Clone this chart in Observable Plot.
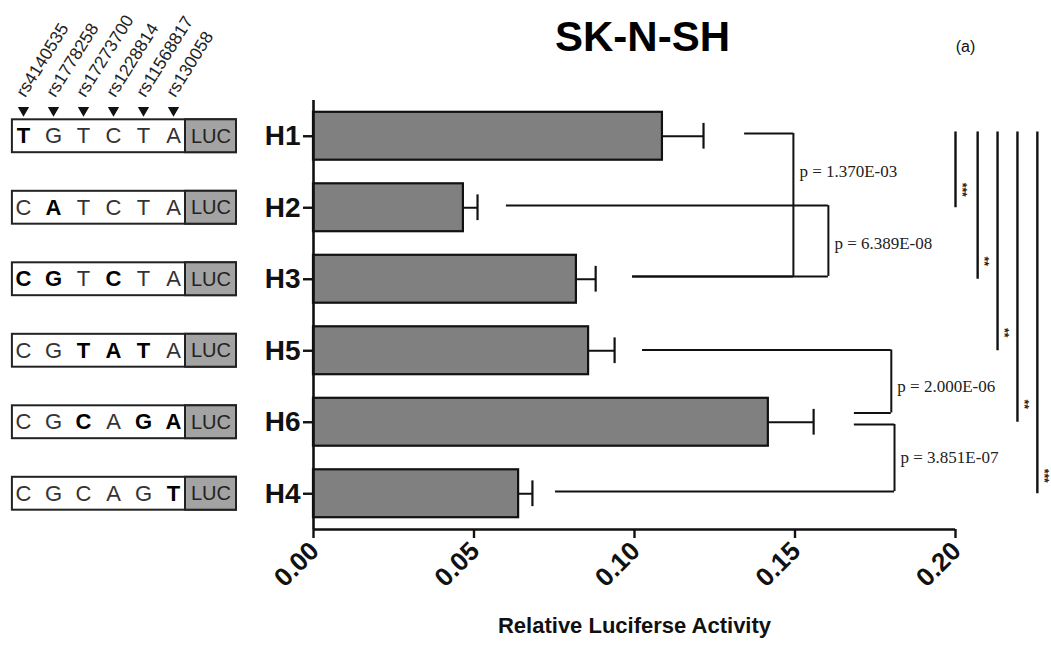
<!DOCTYPE html>
<html><head><meta charset="utf-8">
<script src="https://cdn.jsdelivr.net/npm/d3@7"></script>
<script src="https://cdn.jsdelivr.net/npm/@observablehq/plot@0.6"></script>
<style>
body{margin:0;background:#fff;}
#wrap{position:relative;width:1051px;height:648px;}
#wrap svg{position:absolute;top:0;left:0;background:transparent;}
</style></head><body><div id="wrap"></div>
<script>
// ---- data ----
const haplotypes = ["H1", "H2", "H3", "H5", "H6", "H4"];
const activity = [0.1087, 0.0467, 0.0819, 0.0857, 0.1417, 0.0639];
const errors = [0.0128, 0.0044, 0.0060, 0.0081, 0.0141, 0.0043];
const snps = ["rs4140535", "rs1778258", "rs17273700", "rs1228814", "rs11568817", "rs130058"];
const alleles = [
  ["T","G","T","C","T","A"],
  ["C","A","T","C","T","A"],
  ["C","G","T","C","T","A"],
  ["C","G","T","A","T","A"],
  ["C","G","C","A","G","A"],
  ["C","G","C","A","G","T"]
];
const boldAlleles = [[0], [1], [0, 1, 3], [2, 3, 4], [2, 4, 5], [5]];
const xTicks = [0, 0.05, 0.10, 0.15, 0.20];
// pairwise comparisons (p-values shown next to brackets)
const pairA = ["H1", "H2", "H5", "H6"];
const pairB = ["H3", "H3", "H6", "H4"];
const pLabels = ["p = 1.370E-03", "p = 6.389E-08", "p = 2.000E-06", "p = 3.851E-07"];
// bracket extents read in activity units
const bracketStartA = [0.1343, 0.0601, 0.1025, 0.1685];
const bracketStartB = [0.0994, 0.0994, 0.1685, 0.0754];
const bracketEnd = [0.1495, 0.1604, 0.1800, 0.1810];
// significance lines vs H1
const sigTargets = ["H2", "H3", "H5", "H6", "H4"];
const sigStars = ["***", "**", "**", "**", "***"];
const sigX = [0.2000, 0.2069, 0.2131, 0.2193, 0.2255];

// ---- derived tables ----
const idx = h => haplotypes.indexOf(h);
const bars = haplotypes.map((h, i) => ({h, i, v: activity[i], e: errors[i]}));
const brackets = pairA.map((a, k) => ({
  ia: idx(a), ib: idx(pairB[k]), sa: bracketStartA[k], sb: bracketStartB[k], x: bracketEnd[k], p: pLabels[k]
}));
// H6 shared by two brackets: offset its two arms
const armOffsetA = [-0.04, -0.03, -0.01, 0.03];
const armOffsetB = [-0.04, -0.04, -0.13, -0.03];
const bracketSegsA = brackets.map((d, k) => ({x1: d.sa, x2: d.x, y: d.ia + armOffsetA[k]}));
const bracketSegsB = brackets.map((d, k) => ({x1: d.sb, x2: d.x, y: d.ib + armOffsetB[k]}));
const bracketVerts = brackets.map((d, k) => ({x: d.x, y1: d.ia + armOffsetA[k], y2: d.ib + armOffsetB[k], p: d.p, ym: (d.ia + d.ib) / 2}));
const sig = sigTargets.map((t, k) => ({x: sigX[k], y1: -0.06, y2: idx(t), s: sigStars[k]}));

const SANS = "'Liberation Sans', Arial, Helvetica, sans-serif";
const SERIF = "'Liberation Serif', 'Times New Roman', serif";
const W = 1051, H = 648;
const MT = 100, MB = 119;
const yScale = {domain: [-0.5, 5.5], reverse: true};
const fmt = d3.format(".2f");

const main = Plot.plot({
  width: W, height: H,
  marginLeft: 313, marginRight: 96, marginTop: MT, marginBottom: MB,
  style: {fontFamily: SANS, color: "#111", background: "transparent"},
  x: {domain: [0, 0.2]},
  y: yScale,
  marks: [
    Plot.rectX(bars, {x1: 0, x2: "v", y1: d => d.i - 0.335, y2: d => d.i + 0.335, fill: "#808080", stroke: "#111", strokeWidth: 2.2}),
    Plot.ruleY(bars, {y: "i", x1: "v", x2: d => d.v + d.e, stroke: "#111", strokeWidth: 2}),
    Plot.ruleX(bars, {x: d => d.v + d.e, y1: d => d.i - 0.18, y2: d => d.i + 0.18, stroke: "#111", strokeWidth: 2.2}),
    Plot.ruleX([0], {stroke: "#111", strokeWidth: 2.6}),
    Plot.ruleY([5.5], {stroke: "#111", strokeWidth: 2.6}),
    // x ticks (marks only) + rotated labels
    Plot.axisX({ticks: xTicks, tickFormat: () => "", tickSize: 9, strokeWidth: 2.4, label: null}),
    Plot.text(xTicks, {x: d => d, frameAnchor: "bottom", dx: 7, dy: 23, rotate: -45, textAnchor: "end", text: d => fmt(d), fontSize: 26, fontWeight: "bold", fill: "#111"}),
    Plot.axisY({ticks: [0, 1, 2, 3, 4, 5], tickFormat: i => haplotypes[i], tickSize: 10, tickPadding: 3, fontSize: 28, fontWeight: "bold", strokeWidth: 2.4, label: null}),
    // brackets
    Plot.ruleY(bracketSegsA, {y: "y", x1: "x1", x2: "x2", stroke: "#111", strokeWidth: 2}),
    Plot.ruleY(bracketSegsB, {y: "y", x1: "x1", x2: "x2", stroke: "#111", strokeWidth: 2}),
    Plot.ruleX(bracketVerts, {x: "x", y1: "y1", y2: "y2", stroke: "#111", strokeWidth: 2}),
    Plot.text(bracketVerts, {x: "x", y: (d, k) => d.ym + (k === 0 ? -0.5 : 0), dx: 6, text: "p", textAnchor: "start", fontFamily: SERIF, fontSize: 17, fill: "#222"}),
    // significance lines
    Plot.ruleX(sig, {x: "x", y1: "y1", y2: "y2", stroke: "#111", strokeWidth: 2.4}),
    Plot.text(sig, {x: "x", y: "y2", dx: 6, dy: -18, text: "s", rotate: 90, fontSize: 12, fontWeight: "bold", fill: "#222"}),
    // title, panel label, x label
    Plot.text(["SK-N-SH"], {frameAnchor: "top", dx: 8, dy: -79, fontSize: 42, fontWeight: "bold", fill: "#000"}),
    Plot.text(["(a)"], {frameAnchor: "top-right", dx: 10, dy: -60, textAnchor: "middle", fontSize: 16, fill: "#111"}),
    Plot.text(["Relative Luciferse Activity"], {frameAnchor: "bottom", dy: 103, fontSize: 22, fontWeight: "bold", fill: "#111"})
  ]
});

// ---- haplotype construct diagram ----
const letters = [];
alleles.forEach((row, i) => row.forEach((a, j) => letters.push({i, j, a, bold: boldAlleles[i].includes(j)})));
const rows = haplotypes.map((h, i) => ({h, i}));
const snpRows = snps.map((s, j) => ({s, j}));

const diagram = Plot.plot({
  width: 250, height: H,
  marginLeft: 23, marginRight: 77, marginTop: MT, marginBottom: MB,
  style: {fontFamily: SANS, color: "#111", background: "transparent", overflow: "visible"},
  x: {domain: [0, 5], axis: null},
  y: {...yScale, axis: null},
  marks: [
    Plot.rect(rows, {x1: -0.37, x2: 7.1, y1: d => d.i - 0.23, y2: d => d.i + 0.23, fill: "white", stroke: "#222", strokeWidth: 2}),
    Plot.rect(rows, {x1: 5.4, x2: 7.1, y1: d => d.i - 0.23, y2: d => d.i + 0.23, fill: "#a3a3a3", stroke: "#222", strokeWidth: 2}),
    Plot.text(rows, {x: 6.25, y: "i", text: () => "LUC", fontSize: 20, fill: "#222"}),
    Plot.text(letters.filter(d => !d.bold), {x: "j", y: "i", text: "a", fontSize: 22, fill: "#333"}),
    Plot.text(letters.filter(d => d.bold), {x: "j", y: "i", text: "a", fontSize: 22, fontWeight: "bold", fill: "#000"}),
    Plot.dot(snpRows, {x: "j", y: 0, dy: -26, symbol: "triangle", rotate: 180, r: 4.2, fill: "#111", stroke: "none"}),
    Plot.text(snpRows, {x: "j", y: 0, dx: -3, dy: -41, text: "s", rotate: -58, textAnchor: "start", fontSize: 17.5, fill: "#222"})
  ]
});

const wrap = document.getElementById("wrap");
wrap.appendChild(main);
wrap.appendChild(diagram);
</script>
</body></html>
